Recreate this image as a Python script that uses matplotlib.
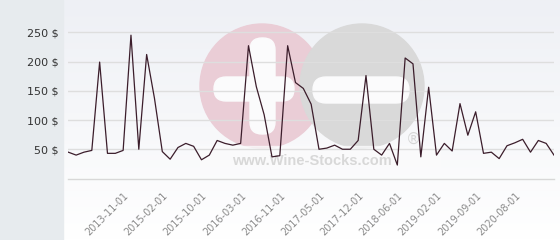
import numpy as np
import matplotlib
matplotlib.use('Agg')
import matplotlib.pyplot as plt
import matplotlib.transforms as mtrans
from matplotlib.patches import Circle, Rectangle, FancyBboxPatch

# prices (one point per period)
prices = [45, 40, 45, 48, 199, 43, 43, 48, 245, 50,
          212, 137, 46, 33, 53, 60, 55, 32, 40, 65,
          60, 57, 60, 227, 157, 109, 37, 39,
          227, 164, 154, 127, 50, 52, 57, 50, 50, 65,
          176, 50, 40, 60, 23, 206, 196, 37, 156, 40,
          60, 47, 128, 74, 114, 43, 45, 34, 56, 61,
          67, 45, 65, 60, 40]
tick_labels = ['2013-11-01', '2015-02-01', '2015-10-01', '2016-03-01',
               '2016-11-01', '2017-05-01', '2017-12-01', '2018-06-01',
               '2019-02-01', '2019-09-01', '2020-08-01']
y_ticks = [50, 100, 150, 200, 250]

W, H = 560, 240
fig = plt.figure(figsize=(W / 100, H / 100), dpi=100)

# background: grey panel on the left, soft gradient on the right
bg = fig.add_axes([0, 0, 1, 1])
bg.set_xlim(0, W)
bg.set_ylim(H, 0)
bg.axis('off')
grad = np.linspace(0, 1, 100).reshape(-1, 1)
bg.imshow(grad, cmap=matplotlib.colors.LinearSegmentedColormap.from_list('g', ['#eef0f5', '#ffffff']),
          extent=[63, W, H, 0], aspect='auto', zorder=0)
bg.add_patch(Rectangle((0, 0), 63, H, color='#e7ebee', zorder=1))

# watermark
bg.add_patch(Circle((262, 86), 62, color='#eacdd6', zorder=2))
bg.add_patch(Circle((362, 86), 62, color='#d9d9d9', zorder=3))
bg.add_patch(FancyBboxPatch((214, 77), 80, 24, boxstyle='round,pad=0,rounding_size=12',
                            color='#fbfbfc', zorder=4))
bg.add_patch(FancyBboxPatch((250, 38), 25, 96, boxstyle='round,pad=0,rounding_size=12',
                            color='#fbfbfc', zorder=4))
bg.add_patch(FancyBboxPatch((313, 77), 96, 26, boxstyle='round,pad=0,rounding_size=13',
                            color='#fbfbfc', zorder=4))
bg.add_patch(Rectangle((200, 146), 240, 30, color='#fbfbfc', alpha=0.7, zorder=4))
bg.text(312, 161, 'www.Wine-Stocks.com', ha='center', va='center', fontsize=10.5,
        fontweight='bold', family='Liberation Sans', color='#d8d8d8', zorder=5)
bg.text(413, 139, '®', ha='center', va='center', fontsize=11, color='#d6d6d6', zorder=5)

ax = fig.add_axes([68.3 / W, 1 - 178.5 / H, (554 - 68.3) / W, 175.5 / H])
ax.patch.set_alpha(0)
x = np.arange(len(prices))
ax.plot(x, prices, color='#3b1d2b', lw=0.9, zorder=3)
ax.set_xlim(0, len(prices) - 1)
ax.set_ylim(0, 300)
for s in ax.spines.values():
    s.set_visible(False)
ax.axhline(0, color='#d8d8d8', lw=1, zorder=1, clip_on=False)
ax.set_yticks(y_ticks)
ax.set_yticklabels([f'{v} $' for v in y_ticks], fontsize=8, color='#333333')
ax.yaxis.grid(True, color='#dedede', lw=1, zorder=1)
ax.set_axisbelow(True)
ax.set_xticks([8 + 5 * i for i in range(len(tick_labels))])
ax.set_xticklabels(tick_labels, fontsize=7, color='#8a8a8a', rotation=45,
                   ha='right', va='center', rotation_mode='anchor')
ax.tick_params(axis='y', length=0, pad=7)
ax.tick_params(axis='x', length=0, pad=11)
shift = mtrans.ScaledTranslation(-4 / 100, 0, fig.dpi_scale_trans)
for lab in ax.get_xticklabels():
    lab.set_transform(lab.get_transform() + shift)

fig.savefig('out.png', dpi=100)
